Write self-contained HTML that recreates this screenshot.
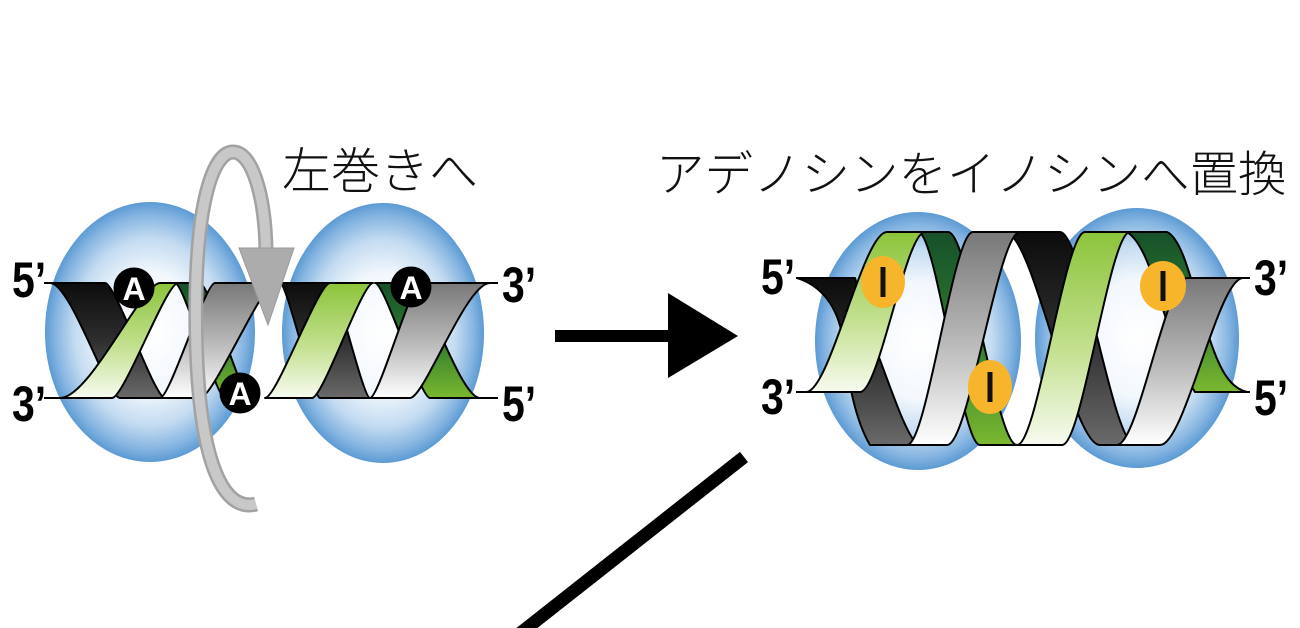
<!DOCTYPE html>
<html>
<head>
<meta charset="utf-8">
<style>
  html,body{margin:0;padding:0;background:#ffffff;}
  body{width:1300px;height:628px;overflow:hidden;}
  svg{display:block;}
  .lbl{font-family:"Liberation Sans",Arial,sans-serif;font-weight:bold;font-size:50px;fill:#000;}
  .jp{font-family:"Liberation Sans","Noto Sans CJK JP","Noto Sans CJK SC",sans-serif;font-weight:300;fill:#111;}
</style>
</head>
<body>
<svg width="1300" height="628" viewBox="0 0 1300 628" xmlns="http://www.w3.org/2000/svg">
  <defs>
    <radialGradient id="blob" cx="50%" cy="50%" r="50%">
      <stop offset="0" stop-color="#ffffff"/>
      <stop offset="0.45" stop-color="#f3f8fd"/>
      <stop offset="0.72" stop-color="#c3dbf1"/>
      <stop offset="0.9" stop-color="#86b5e1"/>
      <stop offset="1" stop-color="#5c9ad4"/>
    </radialGradient>
    <linearGradient id="gGreen" x1="0" y1="0" x2="0" y2="1">
      <stop offset="0" stop-color="#8cc43b"/>
      <stop offset="0.55" stop-color="#c3e08f"/>
      <stop offset="1" stop-color="#f7fbf0"/>
    </linearGradient>
    <linearGradient id="gGray" x1="0" y1="0" x2="0" y2="1">
      <stop offset="0" stop-color="#787878"/>
      <stop offset="0.55" stop-color="#bdbdbd"/>
      <stop offset="1" stop-color="#ffffff"/>
    </linearGradient>
    <linearGradient id="gBlack" x1="0" y1="0" x2="0" y2="1">
      <stop offset="0" stop-color="#0c0c0c"/>
      <stop offset="0.5" stop-color="#2e2e2e"/>
      <stop offset="1" stop-color="#6a6a6a"/>
    </linearGradient>
    <linearGradient id="gDark" x1="0" y1="0" x2="0" y2="1">
      <stop offset="0" stop-color="#16502a"/>
      <stop offset="0.5" stop-color="#2f7a2e"/>
      <stop offset="1" stop-color="#7ab82f"/>
    </linearGradient>
  </defs>

  <!-- ===== Left helix ===== -->
  <ellipse cx="150" cy="332" rx="105" ry="130" fill="url(#blob)"/>
  <ellipse cx="383" cy="333" rx="101" ry="130" fill="url(#blob)"/>

  <g stroke="#000" stroke-width="2" stroke-linejoin="round">
    <line x1="44" y1="283" x2="52" y2="283"/>
    <line x1="44" y1="398" x2="62" y2="398"/>
    <line x1="486" y1="283" x2="498" y2="283"/>
    <line x1="476" y1="398" x2="498" y2="398"/>
    <!-- back ribbons -->
    <path d="M50,283 L105,283 C115.8,283 154.2,398 165,398 L120,398 C107.4,398 71,283 50,283 Z" fill="url(#gBlack)"/>
    <path d="M175,283 L200,283 C209,283 241,398 250,398 L225,398 C216,398 184,283 175,283 Z" fill="url(#gDark)"/>
    <path d="M280,283 L330,283 C337.2,283 362.8,398 370,398 L320,398 C312.8,398 287.2,283 280,283 Z" fill="url(#gBlack)"/>
    <path d="M375,283 L412,283 C424.2,283 460,398 480,398 L430,398 C420.1,398 384.9,283 375,283 Z" fill="url(#gDark)"/>
    <!-- front ribbons -->
    <path d="M160,283 L178,283 C166.1,283 123.9,398 112,398 L60,398 C90,398 142,283 160,283 Z" fill="url(#gGreen)"/>
    <path d="M215,283 L275,283 C261.5,283 213.5,398 200,398 L160,398 C169.9,398 205.1,283 215,283 Z" fill="url(#gGray)"/>
    <path d="M330,283 L373,283 C362,283 323,398 312,398 L265,398 C276.7,398 318.3,283 330,283 Z" fill="url(#gGreen)"/>
    <path d="M420,283 L490,283 C466,283 424.4,398 410,398 L370,398 C379,398 411,283 420,283 Z" fill="url(#gGray)"/>
  </g>

  <!-- A markers -->
  <g font-family="Liberation Sans, Arial, sans-serif" font-weight="bold" font-size="32" fill="#fff" text-anchor="middle">
    <circle cx="134" cy="288" r="20.5" fill="#000"/>
    <text x="134" y="300">A</text>
    <circle cx="411" cy="287" r="20.5" fill="#000"/>
    <text x="411" y="299">A</text>
    <circle cx="240" cy="393" r="20.5" fill="#000"/>
    <text x="240" y="405">A</text>
  </g>

  <!-- rotation arrow -->
  <path d="M256,504 C226,512 198,470 196,330 C194,200 214,152 233,152 C252,152 265,195 266,250" fill="none" stroke="#a2a2a2" stroke-width="15"/>
  <path d="M256,504 C226,512 198,470 196,330 C194,200 214,152 233,152 C252,152 265,195 266,250" fill="none" stroke="#c8c8c8" stroke-width="10"/>
  <polygon points="239,248 294,248 268,325" fill="#acacac" stroke="#9a9a9a" stroke-width="1"/>

  <!-- labels left helix -->
  <text class="lbl" transform="translate(12,297) scale(0.82,1)">5’</text>
  <text class="lbl" transform="translate(12,421) scale(0.82,1)">3’</text>
  <text class="lbl" transform="translate(502,302) scale(0.82,1)">3’</text>
  <text class="lbl" transform="translate(502,421) scale(0.82,1)">5’</text>

  <text class="jp" x="282" y="188" font-size="49">左巻きへ</text>

  <!-- ===== Arrow ===== -->
  <rect x="555" y="330" width="115" height="12" fill="#000"/>
  <polygon points="668,293 738,336 668,378" fill="#000"/>

  <!-- diagonal line -->
  <line x1="744" y1="457" x2="518" y2="635" stroke="#000" stroke-width="13"/>

  <!-- ===== Right helix ===== -->
  <text class="jp" x="656" y="191" font-size="48.5">アデノシンをイノシンへ置換</text>

  <ellipse cx="918" cy="341" rx="103" ry="129" fill="url(#blob)"/>
  <ellipse cx="1137" cy="338" rx="102" ry="130" fill="url(#blob)"/>

  <g stroke="#000" stroke-width="2" stroke-linejoin="round">
    <line x1="796" y1="278" x2="806" y2="278"/>
    <line x1="796" y1="392" x2="810" y2="392"/>
    <line x1="1238" y1="278" x2="1250" y2="278"/>
    <line x1="1240" y1="392" x2="1250" y2="392"/>
    <!-- back ribbons -->
    <path d="M797,278 L855,278 C862,300 868,330 880,360 C895,400 905,430 917,445 L870,445 C855,420 848,380 843,340 C838,305 820,285 797,278 Z" fill="url(#gBlack)"/>
    <path d="M918,232 L948,232 C968.7,232 996.3,445 1017,445 L980,445 C961.4,445 936.6,232 918,232 Z" fill="url(#gDark)"/>
    <path d="M1005,232 L1060,232 C1082.5,232 1112.5,445 1135,445 L1100,445 C1071.5,445 1033.5,232 1005,232 Z" fill="url(#gBlack)"/>
    <path d="M1127,232 L1167,232 C1185,240 1195,300 1210,340 C1220,370 1230,388 1247,392 L1195,392 C1180,370 1170,330 1160,300 C1150,265 1140,240 1127,232 Z" fill="url(#gDark)"/>
    <!-- front ribbons -->
    <path d="M887,232 L925,232 C905.5,232 879.5,392 860,392 L806,392 C830,392 863,232 887,232 Z" fill="url(#gGreen)"/>
    <path d="M973,232 L1020,232 C998,232 969,445 947,445 L907,445 C927,445 953,232 973,232 Z" fill="url(#gGray)"/>
    <path d="M1085,232 L1130,232 C1109.6,232 1082.4,445 1062,445 L1017,445 C1037.4,445 1064.6,232 1085,232 Z" fill="url(#gGreen)"/>
    <path d="M1187,278 L1243,278 C1218,278 1185,445 1160,445 L1117,445 C1138,445 1166,278 1187,278 Z" fill="url(#gGray)"/>
  </g>

  <!-- I markers -->
  <g>
    <ellipse cx="883" cy="282" rx="22" ry="26" fill="#f7b52c"/>
    <rect x="880.5" y="267" width="5" height="30" fill="#111"/>
    <ellipse cx="990" cy="387" rx="22" ry="27" fill="#f7b52c"/>
    <rect x="987.5" y="372" width="5" height="30" fill="#111"/>
    <ellipse cx="1163" cy="286" rx="23" ry="25" fill="#f7b52c"/>
    <rect x="1160.5" y="271" width="5" height="30" fill="#111"/>
  </g>

  <!-- labels right helix -->
  <text class="lbl" transform="translate(761,294) scale(0.82,1)">5’</text>
  <text class="lbl" transform="translate(761,414) scale(0.82,1)">3’</text>
  <text class="lbl" transform="translate(1254,295) scale(0.82,1)">3’</text>
  <text class="lbl" transform="translate(1254,415) scale(0.82,1)">5’</text>
</svg>
</body>
</html>
